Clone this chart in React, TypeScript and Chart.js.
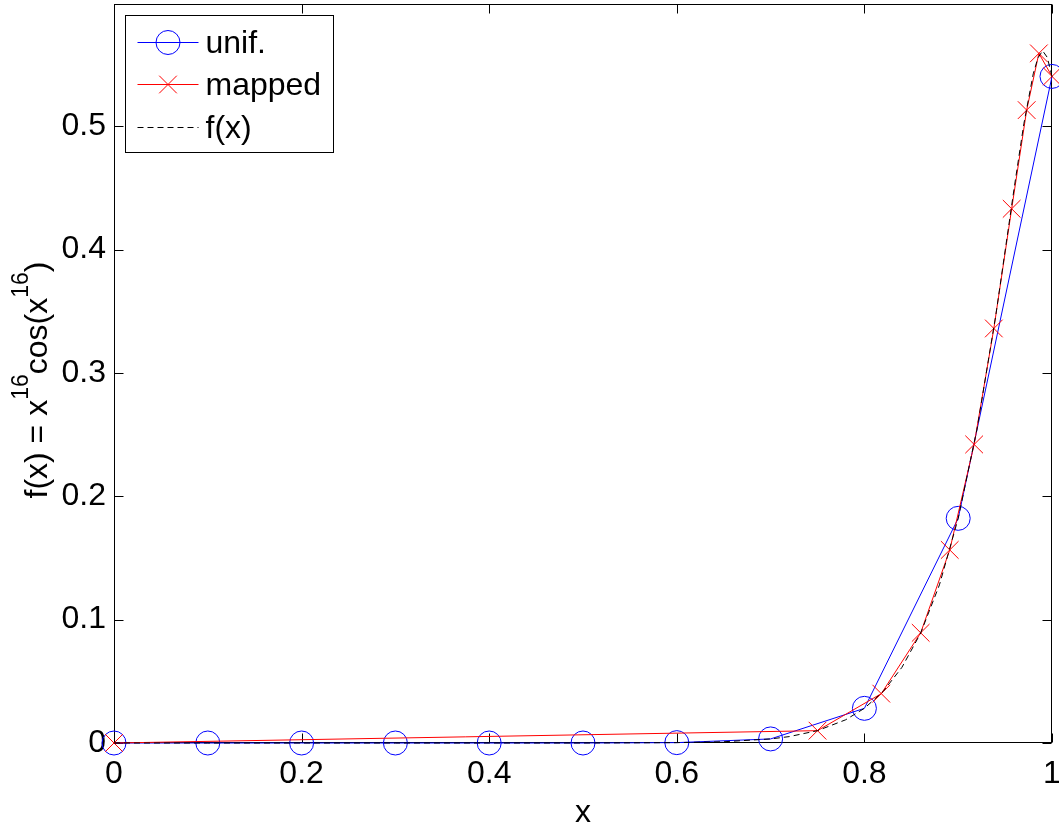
import React, { useEffect, useRef } from 'react';
import { Chart, registerables } from 'chart.js';

Chart.register(...registerables);

const FONT = '"Liberation Sans", Arial, Helvetica, sans-serif';

// uniform grid samples ("unif.")
const unifX = [0, 0.1, 0.2, 0.3, 0.4, 0.5, 0.6, 0.7, 0.8, 0.9, 1.0];
const unifY = [0, 0, 0, 0, 0, 0, 0.0003, 0.0033, 0.0281, 0.1821, 0.5403];

// mapped grid samples ("mapped")
const mappedX = [0, 0.750, 0.818, 0.860, 0.891, 0.917, 0.938, 0.957, 0.973, 0.986, 1.0];
const mappedY = [0, 0.0100, 0.0400, 0.0893, 0.1565, 0.2420, 0.3360, 0.4330, 0.5130, 0.5590, 0.5403];

// reference curve f(x)
const fX = [0, 0.1, 0.2, 0.3, 0.4, 0.5, 0.6, 0.65, 0.7, 0.72, 0.75, 0.78, 0.8, 0.82, 0.84, 0.86, 0.88, 0.9, 0.92, 0.94, 0.96, 0.97, 0.98, 0.985, 0.99, 0.995, 1.0];
const fY = [0, 0, 0, 0, 0, 0, 0.0003, 0.0010, 0.0033, 0.0052, 0.0100, 0.0188, 0.0281, 0.0418, 0.0613, 0.0891, 0.1282, 0.1821, 0.2543, 0.3463, 0.4515, 0.5019, 0.5424, 0.5553, 0.5611, 0.5557, 0.5403];

const xTicks = [0, 0.2, 0.4, 0.6, 0.8, 1];
const yTicks = [0, 0.1, 0.2, 0.3, 0.4, 0.5];

const legendLabels = ['unif.', 'mapped', 'f(x)'];
const xTitle = 'x';
// y-axis title pieces: [text, isSuperscript]
const yTitleParts: [string, boolean][] = [
  ['f(x) = x', false],
  ['16', true],
  ['cos(x', false],
  ['16', true],
  [')', false],
];

const toXY = (xs: number[], ys: number[]) => xs.map((x, i) => ({ x, y: ys[i] }));

const framePlugin = {
  id: 'frame',
  beforeDatasetsDraw(chart: any) {
    const { ctx, chartArea: a, scales } = chart;
    const xs = scales.x;
    const ys = scales.y;
    const L = Math.round(a.left) + 0.5;
    const R = Math.round(a.right) - 0.5;
    const T = Math.round(a.top) + 0.5;
    const B = Math.round(a.bottom) - 0.5;
    const len = 9;
    ctx.save();
    ctx.strokeStyle = '#000';
    ctx.lineWidth = 1;
    ctx.strokeRect(L, T, R - L, B - T);
    ctx.beginPath();
    for (const v of xTicks) {
      const px = Math.round(xs.getPixelForValue(v)) + 0.5;
      ctx.moveTo(px, B);
      ctx.lineTo(px, B - len);
      ctx.moveTo(px, T);
      ctx.lineTo(px, T + len);
    }
    for (const v of yTicks) {
      const py = Math.round(ys.getPixelForValue(v)) + 0.5;
      ctx.moveTo(L, py);
      ctx.lineTo(L + len, py);
      ctx.moveTo(R, py);
      ctx.lineTo(R - len, py);
    }
    ctx.stroke();
    ctx.restore();
  },
};

const legendPlugin = {
  id: 'matlabLegend',
  afterDatasetsDraw(chart: any) {
    const { ctx, chartArea: a } = chart;
    const bx = Math.round(a.left) + 11 + 0.5;
    const by = Math.round(a.top) + 11 + 0.5;
    const bw = 208;
    const bh = 137;
    ctx.save();
    ctx.fillStyle = '#fff';
    ctx.fillRect(bx, by, bw, bh);
    ctx.strokeStyle = '#000';
    ctx.lineWidth = 1;
    ctx.strokeRect(bx, by, bw, bh);
    const rows = [by + 26, by + 68, by + 111];
    const x0 = bx + 12;
    const x1 = bx + 73;
    const xm = (x0 + x1) / 2;
    ctx.font = `32px ${FONT}`;
    ctx.textBaseline = 'alphabetic';
    ctx.textAlign = 'left';
    rows.forEach((ry, i) => {
      const y = Math.round(ry) + 0.5;
      ctx.save();
      ctx.lineWidth = 1;
      if (i === 0) {
        ctx.strokeStyle = '#0000ff';
        ctx.beginPath();
        ctx.moveTo(x0, y);
        ctx.lineTo(x1, y);
        ctx.stroke();
        ctx.beginPath();
        ctx.arc(xm, y, 12, 0, Math.PI * 2);
        ctx.stroke();
      } else if (i === 1) {
        ctx.strokeStyle = '#ff0000';
        ctx.beginPath();
        ctx.moveTo(x0, y);
        ctx.lineTo(x1, y);
        const d = 8.8;
        ctx.moveTo(xm - d, y - d);
        ctx.lineTo(xm + d, y + d);
        ctx.moveTo(xm - d, y + d);
        ctx.lineTo(xm + d, y - d);
        ctx.stroke();
      } else {
        ctx.strokeStyle = '#000';
        ctx.setLineDash([6, 4]);
        ctx.beginPath();
        ctx.moveTo(x0, y);
        ctx.lineTo(x1, y);
        ctx.stroke();
      }
      ctx.restore();
      ctx.fillStyle = '#000';
      ctx.fillText(legendLabels[i], bx + 80, ry + 11);
    });
    ctx.restore();
  },
};

const yTitlePlugin = {
  id: 'yTitle',
  afterDraw(chart: any) {
    const { ctx } = chart;
    const mainFont = `32px ${FONT}`;
    const supFont = `23px ${FONT}`;
    ctx.save();
    let total = 0;
    for (const [t, sup] of yTitleParts) {
      ctx.font = sup ? supFont : mainFont;
      total += ctx.measureText(t).width;
    }
    ctx.translate(47, 380);
    ctx.rotate(-Math.PI / 2);
    ctx.fillStyle = '#000';
    ctx.textBaseline = 'alphabetic';
    ctx.textAlign = 'left';
    let cx = -total / 2;
    for (const [t, sup] of yTitleParts) {
      ctx.font = sup ? supFont : mainFont;
      ctx.fillText(t, cx, sup ? -19 : 0);
      cx += ctx.measureText(t).width;
    }
    ctx.restore();
  },
};

const fmt = (v: number) => String(Number(Number(v).toFixed(2)));

export default function App() {
  const ref = useRef<HTMLCanvasElement | null>(null);

  useEffect(() => {
    if (!ref.current) return;
    const chart = new Chart(ref.current, {
      type: 'line',
      data: {
        datasets: [
          {
            label: legendLabels[2],
            data: toXY(fX, fY),
            borderColor: '#000000',
            borderWidth: 1,
            borderDash: [6, 4],
            pointRadius: 0,
            fill: false,
            tension: 0,
            clip: false as any,
            order: 0,
          },
          {
            label: legendLabels[1],
            data: toXY(mappedX, mappedY),
            borderColor: '#ff0000',
            borderWidth: 1,
            pointStyle: 'crossRot',
            pointRadius: 12.5,
            pointBorderColor: '#ff0000',
            pointBackgroundColor: 'rgba(0,0,0,0)',
            pointBorderWidth: 1,
            fill: false,
            tension: 0,
            clip: false as any,
            order: 1,
          },
          {
            label: legendLabels[0],
            data: toXY(unifX, unifY),
            borderColor: '#0000ff',
            borderWidth: 1,
            pointStyle: 'circle',
            pointRadius: 12,
            pointBorderColor: '#0000ff',
            pointBackgroundColor: 'rgba(0,0,0,0)',
            pointBorderWidth: 1,
            fill: false,
            tension: 0,
            clip: false as any,
            order: 2,
          },
        ],
      },
      options: {
        animation: false,
        responsive: false,
        events: [],
        layout: { autoPadding: false, padding: { top: 4, right: 7, left: 0, bottom: 0 } },
        plugins: {
          legend: { display: false },
          tooltip: { enabled: false },
        },
        scales: {
          x: {
            type: 'linear',
            min: 0,
            max: 1,
            grid: { display: false, drawTicks: false },
            border: { display: false },
            ticks: {
              stepSize: 0.2,
              padding: 12,
              color: '#000',
              font: { family: FONT, size: 32 },
              maxRotation: 0,
              autoSkip: false,
              callback: (v: any) => fmt(v),
            },
            title: {
              display: true,
              text: xTitle,
              color: '#000',
              font: { family: FONT, size: 32 },
              padding: { top: 0, bottom: 0 },
            },
            afterFit: (s: any) => {
              s.height = 89;
              s.paddingLeft = 0;
              s.paddingRight = 0;
            },
          },
          y: {
            type: 'linear',
            min: 0,
            max: 0.599,
            grid: { display: false, drawTicks: false },
            border: { display: false },
            ticks: {
              stepSize: 0.1,
              padding: 8,
              color: '#000',
              font: { family: FONT, size: 32 },
              autoSkip: false,
              callback: (v: any) => fmt(v),
            },
            afterBuildTicks: (s: any) => {
              s.ticks = s.ticks.filter((t: any) => t.value <= 0.5 + 1e-9);
            },
            afterFit: (s: any) => {
              s.width = 114;
              s.paddingTop = 0;
              s.paddingBottom = 0;
            },
          },
        },
      } as any,
      plugins: [framePlugin, legendPlugin, yTitlePlugin],
    });
    return () => chart.destroy();
  }, []);

  return (
    <div style={{ position: 'absolute', left: 0, top: 0, width: 1059, height: 832, background: '#fff' }}>
      <canvas ref={ref} width={1059} height={832} style={{ display: 'block' }} />
    </div>
  );
}
